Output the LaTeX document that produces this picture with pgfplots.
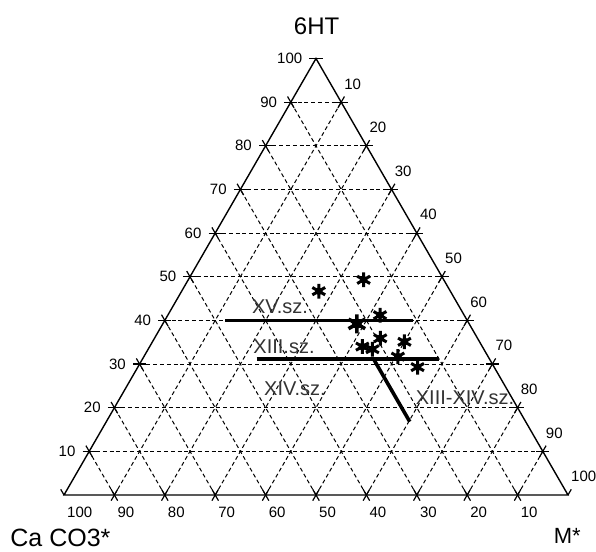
\documentclass[border=0pt]{standalone}
\usepackage{pgfplots}
\usepackage{pgfplotstable}
\pgfplotsset{compat=1.18}
\usepackage{fontspec}
\setmainfont{Liberation Sans}
\pgfplotstableread{
h    m    c
49.3 34.8 15.9
46.7 27.2 26.1
41.2 42.1 16.7
35.9 44.8 19.3
35.1 50.0 14.9
34.0 42.2 23.8
33.4 44.5 22.1
31.7 50.4 17.9
29.3 55.5 15.2
}\starsdata
\pgfplotstableread{
h    m    c
39.2 38.5 22.3
}\bigstardata
\pgfplotstableread{
h    m    c
40.0 12.0 48.0
40.0 49.2 10.8
}\lineXV
\pgfplotstableread{
h    m    c
31.2 22.6 46.2
31.2 58.9  9.9
}\lineXIII
\pgfplotstableread{
h    m    c
31.2 45.8 23.0
16.8 60.2 23.0
}\lineDiag
\begin{document}
\begin{tikzpicture}
\useasboundingbox (-32pt,-28.5pt) rectangle (266pt,247.5pt);
\begin{scope}[x=2.52pt,y=2.52pt]
  % dashed grid
  \foreach \k in {10,20,...,90}{
    \draw[line width=0.5pt, dash pattern=on 2pt off 1.4pt] ({\k/2},{0.866025*\k}) -- ({100-\k/2},{0.866025*\k});
    \draw[line width=0.5pt, dash pattern=on 2pt off 1.4pt] (\k,0) -- ({\k/2},{0.866025*\k});
    \draw[line width=0.5pt, dash pattern=on 2pt off 1.4pt] (\k,0) -- ({50+\k/2},{0.866025*(100-\k)});
    % tick crosses
    \draw[line width=0.6pt] ({\k/2-1.3},{0.866025*\k}) -- ({\k/2+1.3},{0.866025*\k});
    \draw[line width=0.6pt] ({100-\k/2-1.3},{0.866025*\k}) -- ({100-\k/2+1.3},{0.866025*\k});
    \draw[line width=0.6pt] ({\k+0.65},-1.126) -- ({\k-0.65},1.126);
    \draw[line width=0.6pt] ({\k-0.65},-1.126) -- ({\k+0.65},1.126);
    \draw[line width=0.6pt] ({\k/2-0.65},{0.866025*\k+1.126}) -- ({\k/2+0.65},{0.866025*\k-1.126});
    \draw[line width=0.6pt] ({50+\k/2-0.65},{0.866025*(100-\k)-1.126}) -- ({50+\k/2+0.65},{0.866025*(100-\k)+1.126});
  }
  % corner ticks
  \draw[line width=0.6pt] (48.7,86.6025) -- (51.3,86.6025);
  \draw[line width=0.6pt] (0,0) -- (-0.65,1.126);
  \draw[line width=0.6pt] (100,0) -- (100.65,1.126);
  % frame
  \draw[line width=0.7pt] (0,0) -- (100,0) -- (50,86.6025) -- cycle;
  % tick labels
  \foreach \k in {10,20,...,100}{
    \node[anchor=east, inner sep=0pt, font=\fontsize{7.5}{9}\selectfont] at ([xshift=-6.7pt]{\k/2},{0.866025*\k}) {\k};
    \node[anchor=south west, inner sep=0pt, font=\fontsize{7.5}{9}\selectfont] at ([xshift=1.4pt,yshift=6.3pt]{50+\k/2},{0.866025*(100-\k)}) {\k};
    \node[anchor=north west, inner sep=0pt, font=\fontsize{7.5}{9}\selectfont] at ([xshift=1.4pt,yshift=-5.6pt]{100-\k},0) {\k};
  }
\end{scope}
\begin{axis}[at={(0,0)}, anchor=south west, scale only axis,
  width=252pt, height=218.2384pt,
  xmin=0, xmax=100, ymin=0, ymax=86.6025,
  axis lines=none, clip=false]
  \addplot[line width=1.8pt, black, no markers] table[x expr=\thisrow{m}+0.5*\thisrow{h}, y expr=0.866025*\thisrow{h}] {\lineXV};
  \addplot[line width=1.8pt, black, no markers] table[x expr=\thisrow{m}+0.5*\thisrow{h}, y expr=0.866025*\thisrow{h}] {\lineXIII};
  \addplot[line width=1.8pt, black, no markers] table[x expr=\thisrow{m}+0.5*\thisrow{h}, y expr=0.866025*\thisrow{h}] {\lineDiag};
  \addplot[only marks, mark=asterisk, mark size=3.7pt, line width=1.5pt, black] table[x expr=\thisrow{m}+0.5*\thisrow{h}, y expr=0.866025*\thisrow{h}] {\starsdata};
  \addplot[only marks, mark=*, mark size=1.7pt, black] table[x expr=\thisrow{m}+0.5*\thisrow{h}, y expr=0.866025*\thisrow{h}] {\starsdata};
  \addplot[only marks, mark=asterisk, mark size=4.8pt, line width=1.8pt, black] table[x expr=\thisrow{m}+0.5*\thisrow{h}, y expr=0.866025*\thisrow{h}] {\bigstardata};
  \addplot[only marks, mark=*, mark size=2.3pt, black] table[x expr=\thisrow{m}+0.5*\thisrow{h}, y expr=0.866025*\thisrow{h}] {\bigstardata};
\end{axis}
\node[font=\fontsize{10}{12}\selectfont, text=black!80] at (108pt,94pt) {XV.sz.};
\node[font=\fontsize{10}{12}\selectfont, text=black!80] at (110pt,74.2pt) {XIII.sz.};
\node[font=\fontsize{10}{12}\selectfont, text=black!80] at (115.5pt,53pt) {XIV.sz.};
\node[font=\fontsize{10}{12}\selectfont, text=black!80] at (200.5pt,48.5pt) {XIII-XIV.sz.};
\node[font=\fontsize{12}{14}\selectfont] at (126.3pt,234.5pt) {6HT};
\node[anchor=base west, inner sep=0pt, font=\fontsize{12.5}{14}\selectfont] at (-27pt,-25.9pt) {Ca CO3*};
\node[anchor=base west, inner sep=0pt, font=\fontsize{11}{13}\selectfont] at (244.7pt,-24.2pt) {M*};
\end{tikzpicture}
\end{document}
